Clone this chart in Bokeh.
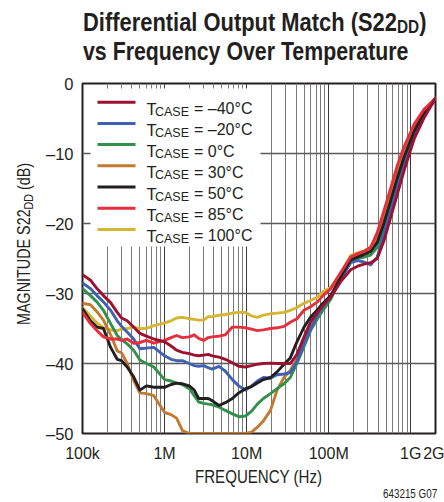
import math
from bokeh.plotting import figure
from bokeh.models import FixedTicker, CustomJSTickFormatter, Label, Range1d, Div
from bokeh.layouts import column, row
from bokeh.embed import file_html
from bokeh.resources import INLINE

# ---------------- data ----------------
freq_hz = [100e3, 125e3, 150e3, 180e3, 220e3, 265e3, 300e3, 350e3, 420e3, 500e3, 600e3, 740e3,
           1.0e6, 1.2e6, 1.4e6, 1.65e6, 2.0e6, 2.3e6, 2.6e6, 3.0e6, 3.4e6, 3.8e6, 4.6e6, 5.5e6, 6.7e6, 8.0e6, 9.7e6,
           11.5e6, 13.5e6, 16e6, 19.5e6, 23.5e6, 28.5e6, 34e6, 41e6, 50e6, 60e6, 73e6, 85e6,
           106e6, 140e6, 185e6, 225e6, 270e6, 325e6, 390e6, 470e6, 570e6, 690e6, 830e6, 1.1e9, 1.45e9, 1.85e9, 2.0e9]

s22_m40 = [-27.3, -28.1, -29.3, -30.3, -31.3, -32.7, -33.5, -33.9, -34.8, -35.7, -36.1, -36.5,
           -36.9, -37.5, -38.1, -38.4, -38.6, -38.8, -38.9, -38.8, -38.7, -38.9, -39.1, -39.4, -39.9, -40.4, -40.5,
           -40.3, -40.1, -40.0, -39.95, -40.0, -40.0, -40.0, -38.7, -36.2, -34.1, -32.7, -31.7,
           -30.5, -28.3, -26.6, -26.1, -25.8, -25.6, -25.0, -22.5, -19.1, -15.7, -12.4, -7.9, -4.9, -2.8, -2.1]

s22_m20 = [-28.5, -29.3, -30.3, -31.2, -32.4, -33.9, -34.7, -35.5, -36.5, -37.9, -37.8, -37.7,
           -38.9, -39.4, -39.6, -39.6, -40.0, -40.3, -40.4, -40.3, -40.6, -40.8, -40.4, -41.1, -42.3, -43.2, -43.8,
           -43.2, -42.5, -42.0, -42.1, -41.6, -41.5, -41.3, -39.7, -37.2, -35.1, -33.1, -31.9,
           -30.5, -28.0, -25.6, -25.3, -25.5, -25.9, -24.8, -21.5, -18.2, -14.9, -11.8, -7.5, -4.6, -2.7, -2.1]

s22_0 = [-29.3, -30.3, -31.2, -32.4, -34.3, -36.0, -36.6, -37.2, -38.1, -39.5, -40.0, -40.5,
         -42.3, -42.5, -42.8, -43.0, -43.6, -44.6, -45.5, -45.7, -45.8, -45.9, -46.2, -46.7, -47.2, -47.6, -47.5,
         -46.8, -45.8, -45.0, -44.3, -43.6, -42.9, -42.0, -40.0, -37.6, -35.3, -33.6, -32.4,
         -30.8, -27.8, -25.4, -25.0, -24.8, -24.5, -23.4, -20.7, -17.4, -14.1, -11.1, -7.1, -4.4, -2.7, -2.1]

s22_30 = [-31.4, -31.6, -32.6, -33.8, -35.9, -38.2, -38.5, -40.0, -42.4, -44.2, -44.3, -44.6,
          -47.0, -47.3, -47.8, -49.6, -50.0, -50.0, -50.0, -50.0, -50.0, -50.0, -50.0, -50.0, -50.0, -50.0, -50.0,
          -49.8, -49.1, -48.2, -46.7, -43.8, -42.0, -41.0, -39.3, -36.9, -35.0, -33.1, -32.0,
          -30.5, -27.5, -25.0, -24.6, -24.2, -23.8, -22.2, -19.4, -16.1, -12.8, -10.0, -6.5, -4.0, -2.6, -2.1]

s22_50 = [-32.2, -33.9, -34.8, -35.0, -37.7, -39.4, -39.6, -40.5, -41.9, -43.8, -43.2, -43.4,
          -43.4, -43.0, -42.8, -42.9, -43.2, -43.8, -45.0, -45.0, -45.0, -45.3, -46.0, -45.6, -45.0, -44.2, -43.6,
          -43.3, -42.8, -42.3, -42.0, -41.2, -40.1, -39.2, -36.9, -34.8, -33.4, -32.3, -31.4,
          -30.3, -27.6, -25.2, -24.8, -24.4, -24.0, -22.7, -20.0, -16.7, -13.4, -10.5, -6.8, -4.2, -2.6, -2.1]

s22_85 = [-32.7, -34.3, -35.3, -36.2, -36.5, -36.5, -36.7, -36.5, -37.1, -37.0, -36.7, -37.1,
          -36.7, -36.3, -36.0, -36.3, -36.2, -35.9, -36.4, -36.7, -36.3, -36.2, -36.1, -35.9, -34.8, -34.8, -34.9,
          -35.1, -35.3, -35.2, -35.0, -34.9, -34.7, -34.1, -33.6, -32.4, -31.9, -31.2, -30.3,
          -29.3, -27.0, -24.8, -24.3, -24.0, -23.4, -21.3, -18.2, -14.9, -11.6, -9.0, -5.8, -3.7, -2.5, -2.1]

s22_100 = [-32.0, -33.2, -34.2, -34.9, -35.2, -35.3, -35.1, -35.0, -34.8, -35.0, -35.0, -34.6,
           -34.2, -33.9, -33.5, -33.4, -33.6, -33.7, -33.8, -33.8, -33.3, -33.3, -33.1, -33.0, -32.8, -32.7, -32.7,
           -33.2, -33.4, -33.1, -32.9, -32.8, -32.7, -32.4, -32.0, -31.4, -31.0, -30.5, -29.8,
           -29.1, -27.1, -24.6, -24.2, -23.9, -23.3, -21.6, -18.7, -15.4, -12.1, -9.4, -6.1, -3.8, -2.5, -2.1]

legend_temps = ["\u201340\u00b0C", "\u201320\u00b0C", "0\u00b0C", "30\u00b0C", "50\u00b0C", "85\u00b0C", "100\u00b0C"]
series = [s22_m40, s22_m20, s22_0, s22_30, s22_50, s22_85, s22_100]
colors = ["#9c1131", "#3f60b3", "#33904c", "#c27a30", "#231f20", "#e5303c", "#d5b632"]

x_tick_values = [1e5, 1e6, 1e7, 1e8, 1e9, 2e9]
x_tick_labels = ["100k", "1M", "10M", "100M", "1G", "2G"]
y_tick_values = [-50, -40, -30, -20, -10, 0]
y_tick_labels = ["\u201350", "\u201340", "\u201330", "\u201320", "\u201310", "0"]

# ---------------- geometry (page pixels; Bokeh's page template has no body margin) ----------------
PAGE_W, PAGE_H = 444, 502
TITLE_H = 68          # title block: page y 0..68
YLAB_W = 34           # y-label block: page x 0..34
FIG_W, FIG_H = PAGE_W - YLAB_W, 400
BOT_H = PAGE_H - TITLE_H - FIG_H
FRAME_L, FRAME_T, FRAME_W, FRAME_H = 82, 83, 353, 350   # page coordinates of the plot frame
XMIN, XMAX, YMIN, YMAX = 1e5, 2e9, -50.0, 0.0
LX0, LX1 = math.log10(XMIN), math.log10(XMAX)


def X(px):  # page pixel -> data x
    return 10 ** (LX0 + (px - FRAME_L) / FRAME_W * (LX1 - LX0))


def Y(py):  # page pixel -> data y
    return YMAX - (py - FRAME_T) / FRAME_H * (YMAX - YMIN)


FONT = "Liberation Sans"
INK = "#231f20"

p = figure(width=FIG_W, height=FIG_H, x_axis_type="log", x_range=Range1d(XMIN, XMAX),
           y_range=Range1d(YMIN, YMAX), output_backend="svg", toolbar_location=None, title=None)
p.min_border_left = FRAME_L - YLAB_W
p.min_border_top = FRAME_T - TITLE_H
p.min_border_right = FIG_W - p.min_border_left - FRAME_W
p.min_border_bottom = FIG_H - p.min_border_top - FRAME_H
p.background_fill_color = "white"
p.border_fill_color = "white"
p.outline_line_color = INK
p.outline_line_width = 2

for ax in (p.xaxis[0], p.yaxis[0]):
    ax.axis_line_color = None
    ax.major_tick_line_color = None
    ax.minor_tick_line_color = None
    ax.major_tick_out = 0
    ax.major_tick_in = 0
    ax.major_label_text_font = FONT
    ax.major_label_text_color = INK
p.xaxis.major_label_text_font_size = "16px"
p.yaxis.major_label_text_font_size = "16.5px"

p.xaxis.ticker = FixedTicker(ticks=x_tick_values)
p.xaxis.formatter = CustomJSTickFormatter(args=dict(vals=x_tick_values, labs=x_tick_labels), code="""
const i = vals.findIndex(v => Math.abs(v - tick) / v < 1e-6);
return i >= 0 ? labs[i] : '';
""")
p.xaxis.major_label_standoff = 11
p.yaxis.ticker = FixedTicker(ticks=y_tick_values)
p.yaxis.formatter = CustomJSTickFormatter(args=dict(vals=y_tick_values, labs=y_tick_labels), code="""
const i = vals.findIndex(v => Math.abs(v - tick) < 1e-6);
return i >= 0 ? labs[i] : '';
""")
p.yaxis.major_label_standoff = 9

decades = [1e5, 1e6, 1e7, 1e8, 1e9]
minors = [m * 10 ** e for e in range(5, 10) for m in range(2, 10) if m * 10 ** e < 2e9]
p.xgrid.ticker = FixedTicker(ticks=decades, minor_ticks=minors)
p.xgrid.grid_line_color = "#3a3a3a"
p.xgrid.grid_line_width = 1
p.xgrid.minor_grid_line_color = "#7a7a7a"
p.xgrid.minor_grid_line_width = 1
p.ygrid.ticker = FixedTicker(ticks=[-40, -30, -20, -10])
p.ygrid.grid_line_color = "#5a5a5a"
p.ygrid.grid_line_width = 1.5

order = [6, 3, 2, 1, 4, 5, 0]
for i in order:
    p.line(freq_hz, series[i], line_color=colors[i], line_width=2.9, line_join="round", line_cap="round")

# legend (drawn by hand so that the subscript can be shown)
p.quad(left=[X(90)], right=[X(260)], top=[Y(88)], bottom=[Y(246)], fill_color="white", line_color=None)
row0, dy = 101.7, 21.2
for k, (temp, col) in enumerate(zip(legend_temps, colors)):
    yy = row0 + dy * k
    p.line([X(97), X(135)], [Y(yy), Y(yy)], line_color=col, line_width=3)
    p.add_layout(Label(x=X(146), y=Y(yy + 6.5), text="T", text_font=FONT, text_font_size="16.5px",
                       text_color=INK, text_align="left", text_baseline="alphabetic"))
    p.add_layout(Label(x=X(154.5), y=Y(yy + 9.5), text="CASE", text_font=FONT, text_font_size="12.5px",
                       text_color=INK, text_align="left", text_baseline="alphabetic"))
    p.add_layout(Label(x=X(193.5), y=Y(yy + 6.5), text="= " + temp, text_font=FONT, text_font_size="16px",
                       text_color=INK, text_align="left", text_baseline="alphabetic"))

# ---------------- texts outside the frame (HTML, with subscripts) ----------------
COND = "white-space:nowrap;line-height:1;transform-origin:0 0;"
title_div = Div(width=PAGE_W, height=TITLE_H, margin=0, styles={"overflow": "visible"}, text=(
    f'<div style="position:relative;width:{PAGE_W}px;height:{TITLE_H}px;color:{INK};font-family:\'{FONT}\';">'
    f'<div style="position:absolute;left:83px;top:8.7px;font-weight:bold;font-size:26.4px;{COND}transform:scaleX(0.83);">'
    'Differential Output Match (S22<span style="font-size:18.5px;position:relative;top:2.5px;">DD</span>)</div>'
    f'<div style="position:absolute;left:83px;top:37.5px;font-weight:bold;font-size:26px;{COND}transform:scaleX(0.82);">'
    'vs Frequency Over Temperature</div></div>'))

ylab_div = Div(width=YLAB_W, height=FIG_H, margin=0, styles={"overflow": "visible"}, text=(
    f'<div style="position:relative;width:{YLAB_W}px;height:{FIG_H}px;color:{INK};font-family:\'{FONT}\';">'
    f'<div style="position:absolute;left:15.7px;top:{325 - TITLE_H}px;font-size:17.5px;{COND}transform:rotate(-90deg) scaleX(0.82);">'
    'MAGNITUDE S22<span style="font-size:13px;position:relative;top:3px;">DD</span> (dB)</div></div>'))

bottom_div = Div(width=PAGE_W, height=BOT_H, margin=0, styles={"overflow": "visible"}, text=(
    f'<div style="position:relative;width:{PAGE_W}px;height:{BOT_H}px;color:{INK};font-family:\'{FONT}\';">'
    f'<div style="position:absolute;left:194.5px;top:0.4px;font-size:18.4px;{COND}transform:scaleX(0.82);">'
    'FREQUENCY (Hz)</div>'
    f'<div style="position:absolute;left:383px;top:19.8px;font-size:12px;{COND}transform:scaleX(0.82);">'
    '643215 G07</div></div>'))

layout = column(title_div, row(ylab_div, p, spacing=0, margin=0), bottom_div, spacing=0, margin=0)

open("out.html", "w").write(file_html(layout, INLINE))
